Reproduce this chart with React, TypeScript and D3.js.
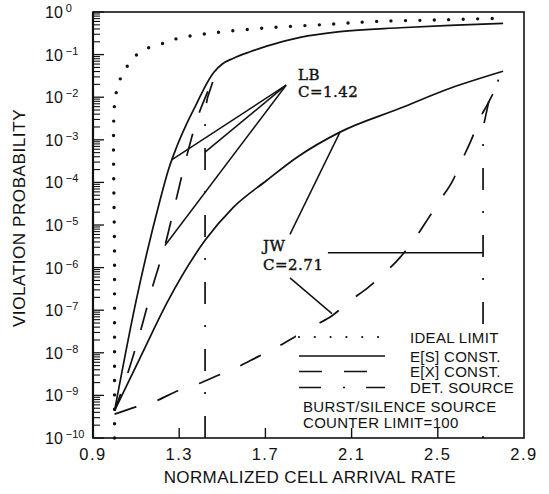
import React from "react";
import * as d3 from "d3";

// Each point: [normalized cell arrival rate, log10 of violation probability]
type Pt = [number, number];

const X_TICKS = [0.9, 1.3, 1.7, 2.1, 2.5, 2.9];
const Y_EXPONENTS = [0, -1, -2, -3, -4, -5, -6, -7, -8, -9, -10];

const IDEAL_LIMIT: Pt[] = [
  [1.0, -10], [1.0, -6], [1.0, -2.15], [1.013, -1.795], [1.039, -1.435],
  [1.118, -0.94], [1.229, -0.73], [1.294, -0.62], [1.46, -0.49], [1.7, -0.376],
  [2.0, -0.287], [2.223, -0.219], [2.49, -0.188], [2.775, -0.148],
];

// LB policer, C = 1.42
const LB_ES: Pt[] = [
  [1.0, -9.36], [1.1, -6.78], [1.211, -4.42], [1.249, -3.72], [1.288, -3.17],
  [1.335, -2.62], [1.381, -2.15], [1.42, -1.75], [1.46, -1.42], [1.5, -1.22],
  [1.55, -1.09], [1.629, -0.934], [1.706, -0.8], [1.861, -0.595], [2.046, -0.46],
  [2.325, -0.37], [2.557, -0.313], [2.803, -0.266],
];
const LB_EX: Pt[] = [
  [1.0, -9.36], [1.062, -8.47], [1.123, -7.44], [1.178, -6.42], [1.234, -5.48],
  [1.285, -4.42], [1.336, -3.36], [1.387, -2.45], [1.434, -1.85], [1.472, -1.38],
];
const LB_DET: Pt[] = [
  [1.42, -10], [1.42, -2.3], [1.432, -2.0], [1.457, -1.62], [1.472, -1.4],
];

// JW policer, C = 2.71
const JW_ES: Pt[] = [
  [1.0, -9.36], [1.123, -8.07], [1.248, -6.78], [1.42, -5.36], [1.55, -4.59],
  [1.707, -3.95], [1.847, -3.41], [2.046, -2.82], [2.325, -2.26], [2.557, -1.79],
  [2.803, -1.39],
];
const JW_EX: Pt[] = [
  [1.0, -9.44], [1.1, -9.27], [1.192, -9.13], [1.294, -8.89], [1.387, -8.73],
  [1.475, -8.54], [1.564, -8.35], [1.666, -8.09], [1.749, -7.88], [1.828, -7.65],
  [1.93, -7.36], [2.009, -7.13], [2.093, -6.78], [2.176, -6.47], [2.255, -6.12],
  [2.325, -5.76], [2.403, -5.25], [2.455, -4.85], [2.51, -4.42], [2.57, -3.95],
  [2.612, -3.48], [2.659, -2.96], [2.696, -2.49], [2.728, -2.19], [2.8, -1.48],
];
const JW_DET: Pt[] = [[2.71, -10], [2.71, -2.72], [2.738, -2.07], [2.79, -1.5]];

// Annotation leaders
const LB_HUB: Pt = [1.796, -1.718];
const LB_TARGETS: Pt[] = [[1.265, -3.47], [1.42, -3.29], [1.234, -5.48]];
const JW_LEADERS: [Pt, Pt][] = [
  [[1.814, -5.22], [2.046, -2.82]],
  [[1.814, -6.24], [2.009, -7.08]],
  [[1.99, -5.65], [2.71, -5.65]],
];

const LEGEND_ROWS = [
  { label: "IDEAL LIMIT", kind: "ideal" },
  { label: "E[S] CONST.", kind: "es" },
  { label: "E[X] CONST.", kind: "ex" },
  { label: "DET. SOURCE", kind: "det" },
];

const INK = "#111";
const SANS = "'Liberation Sans', Arial, Helvetica, sans-serif";
const SERIF = "'DejaVu Serif', 'Liberation Serif', serif";

export default function App() {
  const W = 549;
  const H = 494;
  const left = 93, right = 524, top = 12, bottom = 438;

  const x = d3.scaleLinear().domain([0.9, 2.9]).range([left, right]);
  const y = d3.scaleLog().domain([1e-10, 1]).range([bottom, top]);
  const px = (p: Pt) => x(p[0]);
  const py = (p: Pt) => y(Math.pow(10, p[1]));

  const smooth = d3.line<Pt>().x(px).y(py).curve(d3.curveMonotoneX);
  const straight = d3.line<Pt>().x(px).y(py);
  const round = d3.line<Pt>().x(px).y(py).curve(d3.curveCatmullRom.alpha(0.5));

  const DASH = "23 22";
  const DASHDOT = "22 22 2 21";

  // minor ticks on the log axis
  const minor: number[] = [];
  for (let k = -10; k < 0; k++) {
    for (let m = 2; m <= 9; m++) minor.push(m * Math.pow(10, k));
  }

  const legendX0 = 299, legendX1 = 385, legendText = 410;
  const legendBase = [342.5, 361.5, 377, 393];

  return (
    <svg
      width={W}
      height={H}
      viewBox={`0 0 ${W} ${H}`}
      style={{ position: "absolute", left: 0, top: 0, background: "#fff" }}
    >
      <rect x={0} y={0} width={W} height={H} fill="#fff" />

      {/* curves */}
      <g fill="none" stroke={INK} strokeWidth={1.7}>
        <path d={round(IDEAL_LIMIT)!} strokeWidth={3.4} strokeLinecap="round" strokeDasharray="0 14.4" />
        <path d={smooth(LB_ES)!} />
        <path d={smooth(LB_EX)!} strokeDasharray={DASH} strokeDashoffset={5} />
        <path d={straight(LB_DET)!} strokeDasharray={DASHDOT} />
        <path d={smooth(JW_ES)!} />
        <path d={smooth(JW_EX)!} strokeDasharray={DASH} />
        <path d={straight(JW_DET)!} strokeDasharray={DASHDOT} strokeDashoffset={20} />
      </g>

      {/* legend panel */}
      <rect x={296} y={328} width={226} height={108} fill="#fff" />
      <g fill="none" stroke={INK}>
        {LEGEND_ROWS.map((r, i) => {
          const ly = legendBase[i] - 5.5;
          const d = `M${legendX0},${ly}H${legendX1}`;
          if (r.kind === "ideal")
            return <path key={r.kind} d={`M${legendX0},${ly}H${legendX1 - 5}`} strokeWidth={2.2} strokeLinecap="round" strokeDasharray="0 15.8" />;
          if (r.kind === "es") return <path key={r.kind} d={d} strokeWidth={1.7} />;
          if (r.kind === "ex") return <path key={r.kind} d={d} strokeWidth={1.7} strokeDasharray={DASH} />;
          return <path key={r.kind} d={d} strokeWidth={1.7} strokeDasharray={DASHDOT} />;
        })}
      </g>
      <g fontFamily={SANS} fontSize={15} fill={INK} letterSpacing={0.3}>
        {LEGEND_ROWS.map((r, i) => (
          <text key={r.label} x={legendText} y={legendBase[i]}>{r.label}</text>
        ))}
        <text x={303} y={411.5}>BURST/SILENCE SOURCE</text>
        <text x={303} y={427.5}>COUNTER LIMIT=100</text>
      </g>

      {/* annotation leaders */}
      <g stroke={INK} strokeWidth={1.5} fill="none">
        {LB_TARGETS.map((t, i) => (
          <line key={i} x1={px(LB_HUB)} y1={py(LB_HUB)} x2={px(t)} y2={py(t)} />
        ))}
        {JW_LEADERS.map(([a, b], i) => (
          <line key={i} x1={px(a)} y1={py(a)} x2={px(b)} y2={py(b)} />
        ))}
      </g>
      <g fontFamily={SERIF} fontSize={15} fill={INK} stroke={INK} strokeWidth={0.4} letterSpacing={0.5}>
        <text x={x(1.851)} y={y(Math.pow(10, -1.6))}>LB</text>
        <text x={x(1.851)} y={y(Math.pow(10, -2.0))}>C=1.42</text>
        <text x={x(1.689)} y={y(Math.pow(10, -5.6))}>JW</text>
        <text x={x(1.689)} y={y(Math.pow(10, -6.06))}>C=2.71</text>
      </g>

      {/* axes frame and ticks */}
      <g stroke={INK} fill="none">
        <rect x={left} y={top} width={right - left} height={bottom - top} strokeWidth={1.6} />
        <line x1={left} y1={top} x2={left} y2={bottom} strokeWidth={2.2} />
        {minor.map((v, i) => (
          <line key={i} x1={left} x2={left + 7} y1={y(v)} y2={y(v)} strokeWidth={1.1} />
        ))}
        {Y_EXPONENTS.map((k) => (
          <line key={k} x1={left} x2={left + 11} y1={y(Math.pow(10, k))} y2={y(Math.pow(10, k))} strokeWidth={1.3} />
        ))}
        {X_TICKS.slice(1, -1).map((t) => (
          <line key={t} x1={x(t)} x2={x(t)} y1={bottom} y2={bottom - 10} strokeWidth={1.4} />
        ))}
      </g>

      {/* tick labels */}
      <g fontFamily={SANS} fill={INK}>
        {X_TICKS.map((t) => (
          <text key={t} x={x(t)} y={460} fontSize={16.5} textAnchor="middle" letterSpacing={1.5}>
            {t.toFixed(1)}
          </text>
        ))}
        {Y_EXPONENTS.map((k) => (
          <text key={k} x={45} y={y(Math.pow(10, k)) + 6} fontSize={16}>
            10
            <tspan dx={3} dy={-6} fontSize={11}>{k === 0 ? "0" : "\u2212" + Math.abs(k)}</tspan>
          </text>
        ))}
      </g>

      {/* axis titles */}
      <text x={310} y={483} fontFamily={SANS} fontSize={17} textAnchor="middle" letterSpacing={0.4} fill={INK}>
        NORMALIZED CELL ARRIVAL RATE
      </text>
      <text
        transform={`translate(25,${(top + bottom) / 2 - 7}) rotate(-90)`}
        fontFamily={SANS}
        fontSize={17}
        textAnchor="middle"
        letterSpacing={0.6}
        fill={INK}
      >
        VIOLATION PROBABILITY
      </text>
    </svg>
  );
}
